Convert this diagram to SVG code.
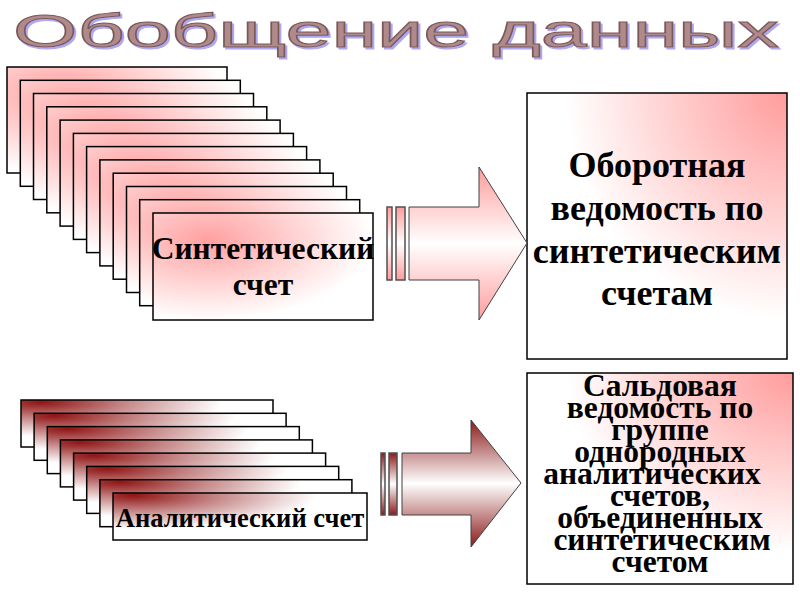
<svg xmlns="http://www.w3.org/2000/svg" width="800" height="600" viewBox="0 0 800 600">
<defs>
<radialGradient id="gPink" cx="0.25" cy="0.25" r="0.75">
<stop offset="0" stop-color="#ffa0a0"/><stop offset="1" stop-color="#ffffff"/>
</radialGradient>
<radialGradient id="gRed" cx="0.08" cy="0.05" r="0.72">
<stop offset="0" stop-color="#901515"/><stop offset="0.45" stop-color="#c48484"/><stop offset="1" stop-color="#ffffff"/>
</radialGradient>
<radialGradient id="gRight" cx="1" cy="0" r="0.85">
<stop offset="0" stop-color="#ff9c9c"/><stop offset="1" stop-color="#ffffff"/>
</radialGradient>
<linearGradient id="gArrowPink" x1="0" y1="0" x2="0" y2="1">
<stop offset="0" stop-color="#ff9c9c"/><stop offset="0.5" stop-color="#ffffff"/><stop offset="1" stop-color="#ff9c9c"/>
</linearGradient>
<linearGradient id="gArrowRed" x1="0" y1="0" x2="0" y2="1">
<stop offset="0" stop-color="#8b1a1a"/><stop offset="0.5" stop-color="#ffffff"/><stop offset="1" stop-color="#8b1a1a"/>
</linearGradient>
<filter id="shadow" x="-5%" y="-20%" width="110%" height="140%">
<feOffset in="SourceAlpha" dx="2" dy="2" result="off"/>
<feFlood flood-color="#aea8f2"/>
<feComposite in2="off" operator="in" result="sh"/>
<feMerge><feMergeNode in="sh"/><feMergeNode in="SourceGraphic"/></feMerge>
</filter>
<style>
.card{fill:url(#gPink);stroke:#000;stroke-width:1.5}
.rcard{fill:url(#gRed);stroke:#000;stroke-width:1.5}
.box{fill:url(#gRight);stroke:#000;stroke-width:1.5}
.lbl{font-family:"Liberation Serif","Times New Roman",serif;font-weight:bold;fill:#000;text-anchor:middle}
.title{font-family:"Liberation Sans",Arial,sans-serif;font-size:47px;fill:#b08a8a;stroke:#7a5858;stroke-width:1}
.ap{fill:url(#gArrowPink);stroke:#404040;stroke-width:1}
.ar{fill:url(#gArrowRed);stroke:#404040;stroke-width:1}
.sp{fill:url(#gArrowPink);stroke:#505050;stroke-width:1.5}
.sr{fill:url(#gArrowRed);stroke:#505050;stroke-width:1.5}
</style>
</defs>
<rect width="800" height="600" fill="#ffffff"/>

<g id="title">
<text class="title" x="13" y="47" textLength="766" lengthAdjust="spacingAndGlyphs" filter="url(#shadow)">Обобщение данных</text>
</g>

<g id="synthetic-accounts">
<rect class="card" x="7" y="67" width="220" height="106"/>
<rect class="card" x="20.3" y="80.3" width="220" height="106"/>
<rect class="card" x="33.5" y="93.5" width="220" height="106"/>
<rect class="card" x="46.8" y="106.8" width="220" height="106"/>
<rect class="card" x="60.1" y="120.1" width="220" height="106"/>
<rect class="card" x="73.4" y="133.4" width="220" height="106"/>
<rect class="card" x="86.6" y="146.6" width="220" height="106"/>
<rect class="card" x="99.9" y="159.9" width="220" height="106"/>
<rect class="card" x="113.2" y="173.2" width="220" height="106"/>
<rect class="card" x="126.5" y="186.5" width="220" height="106"/>
<rect class="card" x="139.7" y="199.7" width="220" height="106"/>
<rect class="card" x="153" y="213" width="220" height="107"/>
<text class="lbl" x="263" y="259" font-size="31.5">Синтетический</text>
<text class="lbl" x="263" y="295" font-size="31.5">счет</text>
</g>

<g id="analytic-accounts">
<rect class="rcard" x="21" y="400" width="252" height="47"/>
<rect class="rcard" x="34.1" y="413.3" width="252" height="47"/>
<rect class="rcard" x="47.3" y="426.6" width="252" height="47"/>
<rect class="rcard" x="60.4" y="439.9" width="252" height="47"/>
<rect class="rcard" x="73.6" y="453.1" width="252" height="47"/>
<rect class="rcard" x="86.7" y="466.4" width="252" height="47"/>
<rect class="rcard" x="99.9" y="479.7" width="252" height="47"/>
<rect class="rcard" x="113" y="493" width="254" height="47"/>
<text class="lbl" x="240" y="527" font-size="26.5">Аналитический счет</text>
</g>

<g id="turnover-sheet">
<rect class="box" x="527" y="93" width="260" height="266"/>
<text class="lbl" x="657" y="177" font-size="36">Оборотная</text>
<text class="lbl" x="657" y="220" font-size="36">ведомость по</text>
<text class="lbl" x="657" y="263" font-size="36">синтетическим</text>
<text class="lbl" x="657" y="305" font-size="36">счетам</text>
</g>

<g id="balance-sheet">
<rect class="box" x="527" y="373" width="266" height="211"/>
<g class="lbl" font-size="31.5">
<text x="660" y="396">Сальдовая</text>
<text x="660" y="418">ведомость по</text>
<text x="660" y="440">группе</text>
<text x="660" y="462">однородных</text>
<text x="652" y="484">аналитических</text>
<text x="660" y="506">счетов,</text>
<text x="660" y="528">объединенных</text>
<text x="662" y="550">синтетическим</text>
<text x="660" y="572">счетом</text>
</g>
</g>

<g id="connectors">
<rect class="sp" x="387" y="207" width="5" height="73"/>
<rect class="sp" x="396" y="207" width="9" height="73"/>
<path class="ap" d="M409,207 H479 V167 L527,243 L479,320 V280 H409 Z"/>
<rect class="sr" x="381" y="453" width="4" height="62"/>
<rect class="sr" x="389" y="453" width="8" height="62"/>
<path class="ar" d="M402,453 H471 V420 L521,483 L471,547 V515 H402 Z"/>
</g>
</svg>
